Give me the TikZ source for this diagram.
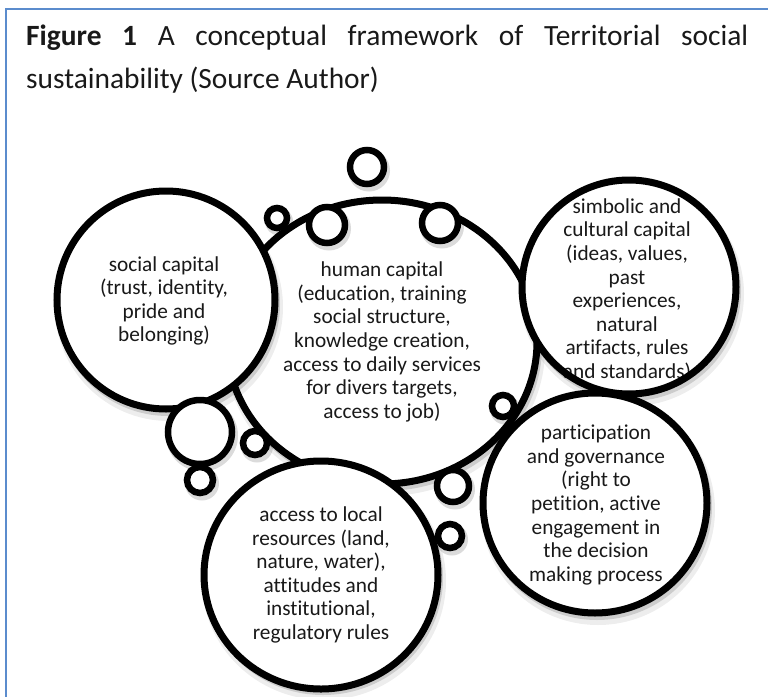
\documentclass[tikz,border=0pt]{standalone}
\usepackage{fontspec}
\setmainfont{Carlito}[Ligatures=NoCommon]
\usetikzlibrary{shapes.geometric}
\definecolor{framec}{RGB}{91,140,205}
\begin{document}
\begin{tikzpicture}[x=1pt,y=-1pt,
  ring/.style={draw=black, line width=7pt, fill=white, inner sep=0pt},
  bigc/.style={ring, circle},
  bige/.style={ring, ellipse},
  smallc/.style={draw=black, line width=6.5pt, fill=white, inner sep=0pt, circle},
  shd/.style={fill=black, opacity=0.14},
  shd2/.style={fill=black, opacity=0.07},
  txt/.style={align=center, inner sep=0pt, text=black!90, font=\fontsize{21.3}{23.6}\selectfont},
  captxt/.style={anchor=base west, inner sep=0pt, text=black!90, font=\fontsize{29.4}{43}\selectfont},
]
\useasboundingbox (0,0) rectangle (768,696);
% frame
\draw[framec, line width=2pt] (6,700) -- (6,9.3) -- (772,9.3);
% caption
\node[captxt] (cap1) at (26,45) {\makebox[722pt][s]{\textbf{Figure 1} A conceptual framework of Territorial social}};
\node[captxt] (cap2) at (26,88) {sustainability (Source Author)};

% human capital ellipse
\fill[shd2] (385,349) ellipse[x radius=160, y radius=147];
\fill[shd] (384,346) ellipse[x radius=158, y radius=145];
\node[bige, minimum width=310pt, minimum height=284pt] (hum) at (382,342) {};
\node[txt] (humt) at (hum.center) {human capital\\(education, training\\social structure,\\knowledge creation,\\access to daily services\\for divers targets,\\access to job)};

% social capital
\fill[shd2] (169,307) circle[radius=114];
\fill[shd] (168,304) circle[radius=112];
\node[bigc, minimum size=218pt] (soc) at (166,300) {};
\node[txt] (soct) at (164,301) {social capital\\(trust, identity,\\pride and\\belonging)};

% simbolic and cultural capital
\fill[shd2] (632,294) circle[radius=112];
\fill[shd] (631,291) circle[radius=110];
\node[bigc, minimum size=214pt, draw=none] (sym) at (629,287) {};
\node[txt] (symt) at (627,290) {simbolic and\\cultural capital\\(ideas, values,\\past\\experiences,\\natural\\artifacts, rules\\and standards)};
\draw[line width=7pt] (sym.center) circle[radius=107];

% participation and governance
\fill[shd2] (598,510) ellipse[x radius=117, y radius=115];
\fill[shd] (597,507) ellipse[x radius=115, y radius=113];
\node[bige, minimum width=224pt, minimum height=220pt] (par) at (595,503) {};
\node[txt] (part) at (596,505) {participation\\and governance\\(right to\\petition, active\\engagement in\\the decision\\making process};

% access to local resources
\fill[shd2] (324,581) ellipse[x radius=122, y radius=119];
\fill[shd] (323,578) ellipse[x radius=120, y radius=117];
\node[bige, minimum width=234pt, minimum height=228pt] (acc) at (321,575) {};
\node[txt] (acct) at (321,575) {access to local\\resources (land,\\nature, water),\\attitudes and\\institutional,\\regulatory rules};

% small circles
\foreach \nm/\cx/\cy/\r in {c1/367/167/17, c2/277/218/10, c3/327/225/18, c4/440/223/18,
  c5/503/406/11, c6/453/486/16, c7/450/536/12, c8/200/432/32, c9/255/443/12, c10/200/480/13}{
  \fill[shd] (\cx+2,\cy+3.5) circle[radius=\r+4];
  \node[smallc, minimum size=2*\r*1pt] (\nm) at (\cx,\cy) {};
}
\end{tikzpicture}
\end{document}
